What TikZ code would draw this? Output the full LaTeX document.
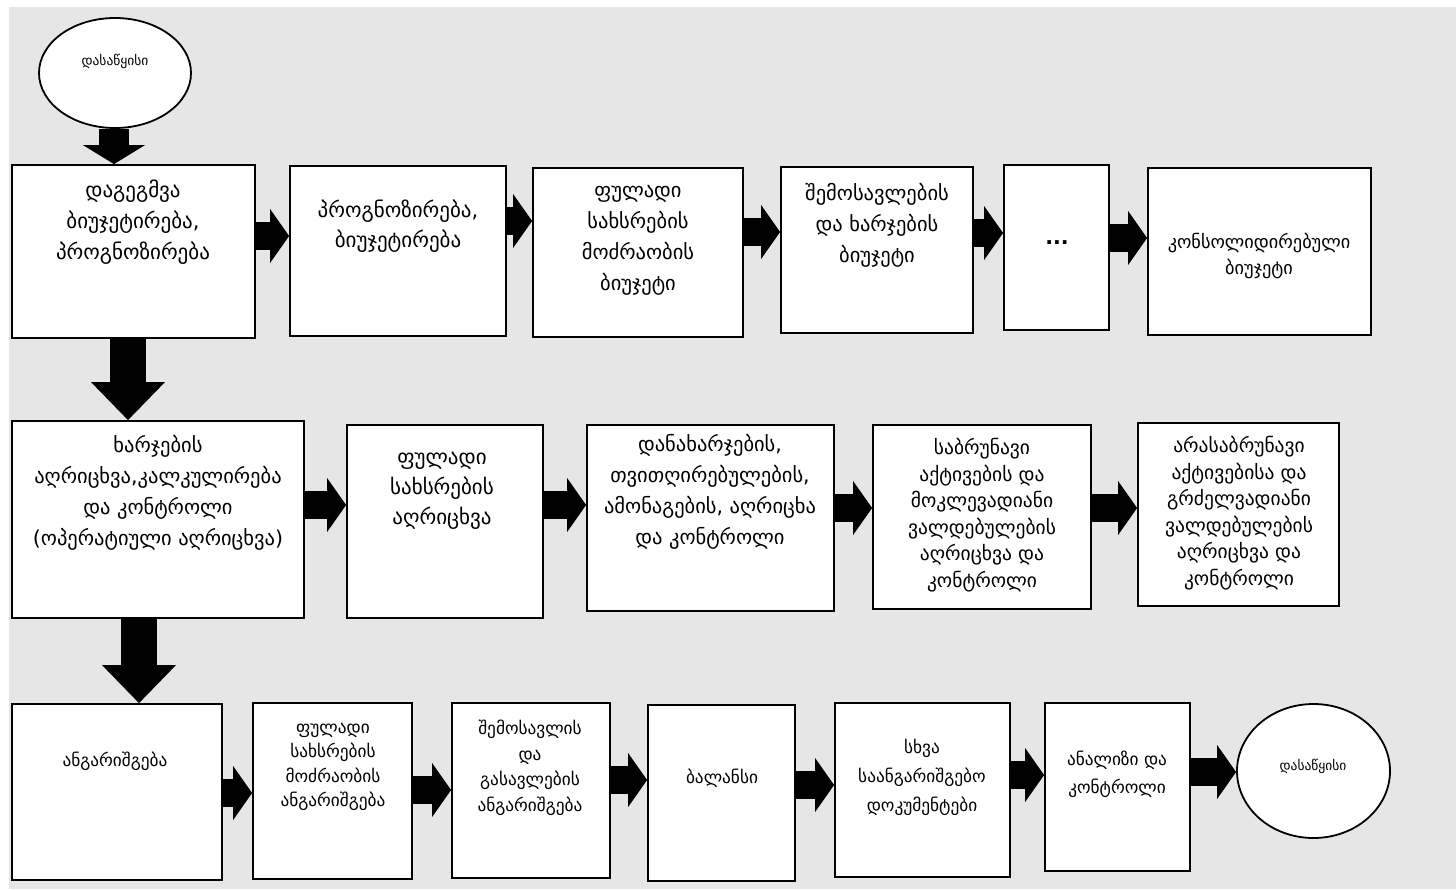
\documentclass[tikz,border=0pt]{standalone}
\usepackage{fontspec}
\newfontfamily\geo{DejaVu Sans}
\usetikzlibrary{arrows.meta,shapes.geometric}
\definecolor{panel}{RGB}{230,230,230}
\begin{document}
\begin{tikzpicture}[x=1pt,y=-1pt,
  box/.style={draw=black, line width=1.8pt, fill=white, inner sep=0pt, shape=rectangle},
  oval/.style={draw=black, line width=1.8pt, fill=white, inner sep=0pt, shape=ellipse},
  txtA/.style={align=center, inner sep=0pt, font=\geo\fontsize{20.5}{31}\selectfont},
  txtB/.style={align=center, inner sep=0pt, font=\geo\fontsize{19.5}{26.5}\selectfont},
  txtC/.style={align=center, inner sep=0pt, font=\geo\fontsize{17.3}{24.5}\selectfont},
  txtS/.style={align=center, inner sep=0pt, font=\geo\fontsize{13.5}{15}\selectfont},
  harrow/.style={line width=28pt, -{Triangle[length=19pt,width=54pt,line width=0pt]}},
  varrowS/.style={line width=30pt, -{Triangle[length=19pt,width=62pt,line width=0pt]}},
  varrowL/.style={line width=36pt, -{Triangle[length=38pt,width=74pt,line width=0pt]}}]

\useasboundingbox (0,0) rectangle (1456,889);
\fill[panel] (9,7) rectangle (1456,889);

% start
\node[oval, minimum width=152pt, minimum height=110pt] (start) at (115,73) {};
\node[txtS] (tstart) at (115,61) {დასაწყისი};

% planning row
\node[box, minimum width=243pt, minimum height=173pt] (b11) at (133.5,251.5) {};
\node[box, minimum width=216pt, minimum height=170pt] (b12) at (398,251) {};
\node[box, minimum width=210pt, minimum height=169pt] (b13) at (638,252.5) {};
\node[box, minimum width=192pt, minimum height=166pt] (b14) at (877,250) {};
\node[box, minimum width=105pt, minimum height=165pt] (b15) at (1056.5,247.5) {};
\node[box, minimum width=223pt, minimum height=167pt] (b16) at (1259.5,251.5) {};

\node[txtA, font=\geo\fontsize{21}{31}\selectfont] (t11) at (133,222) {დაგეგმვა\\ბიუჯეტირება,\\პროგნოზირება};
\node[txtA, font=\geo\fontsize{21}{30}\selectfont] (t12) at (398,226) {პროგნოზირება,\\ბიუჯეტირება};
\node[txtA] (t13) at (638,240) {ფულადი\\სახსრების\\მოძრაობის\\ბიუჯეტი};
\node[txtA] (t14) at (877,225) {შემოსავლების\\და ხარჯების\\ბიუჯეტი};
\node[txtA] (t15) at (1057,243) {\bfseries ...};
\node[txtB, font=\geo\fontsize{18.3}{26}\selectfont] (t16) at (1259,256) {კონსოლიდირებული\\ბიუჯეტი};

% accounting row
\node[box, minimum width=292pt, minimum height=197pt] (b21) at (158,519.5) {};
\node[box, minimum width=196pt, minimum height=193pt] (b22) at (445,521.5) {};
\node[box, minimum width=247pt, minimum height=186pt] (b23) at (710.5,518) {};
\node[box, minimum width=218pt, minimum height=184pt] (b24) at (982,517) {};
\node[box, minimum width=201pt, minimum height=183pt] (b25) at (1238.5,514.5) {};

\node[txtA] (t21) at (158,493) {ხარჯების\\აღრიცხვა,კალკულირება\\და კონტროლი\\(ოპერატიული აღრიცხვა)};
\node[txtA, font=\geo\fontsize{21}{30}\selectfont] (t22) at (442,491) {ფულადი\\სახსრების\\აღრიცხვა};
\node[txtA] (t23) at (710,492) {დანახარჯების,\\თვითღირებულების,\\ამონაგების, აღრიცხა\\და კონტროლი};
\node[txtB] (t24) at (982,515) {საბრუნავი\\აქტივების და\\მოკლევადიანი\\ვალდებულების\\აღრიცხვა და\\კონტროლი};
\node[txtB] (t25) at (1239,513) {არასაბრუნავი\\აქტივებისა და\\გრძელვადიანი\\ვალდებულების\\აღრიცხვა და\\კონტროლი};

% reporting row
\node[box, minimum width=210pt, minimum height=176pt] (b31) at (117,792) {};
\node[box, minimum width=159pt, minimum height=176pt] (b32) at (332.5,791) {};
\node[box, minimum width=158pt, minimum height=175pt] (b33) at (531,790.5) {};
\node[box, minimum width=147pt, minimum height=176pt] (b34) at (721.5,793) {};
\node[box, minimum width=175pt, minimum height=174pt] (b35) at (922.5,790) {};
\node[box, minimum width=145pt, minimum height=168pt] (b36) at (1117.5,787) {};
\node[oval, minimum width=153pt, minimum height=134pt] (finish) at (1313.5,771) {};

\node[txtC] (t31) at (115,761) {ანგარიშგება};
\node[txtC] (t32) at (333,767) {ფულადი\\სახსრების\\მოძრაობის\\ანგარიშგება};
\node[txtC, font=\geo\fontsize{17.3}{25.5}\selectfont] (t33) at (530,768) {შემოსავლის\\და\\გასავლების\\ანგარიშგება};
\node[txtC] (t34) at (722,778) {ბალანსი};
\node[txtC, font=\geo\fontsize{17.3}{29}\selectfont] (t35) at (922,777) {სხვა\\საანგარიშგებო\\დოკუმენტები};
\node[txtC, font=\geo\fontsize{17.3}{28}\selectfont] (t36) at (1117,774) {ანალიზი და\\კონტროლი};
\node[txtS] (tfinish) at (1313,766) {დასაწყისი};

% vertical flow
\draw[varrowS] (114,0 |- start.south) -- (114,0 |- b11.north);
\draw[varrowL] (128,0 |- b11.south) -- (128,0 |- b21.north);
\draw[varrowL] (139,0 |- b21.south) -- (139,0 |- b31.north);

% planning row arrows
\draw[harrow] (b11.east |- 0,236) -- (b12.west |- 0,236);
\draw[harrow] (b12.east |- 0,221) -- (b13.west |- 0,221);
\draw[harrow] (b13.east |- 0,232) -- (b14.west |- 0,232);
\draw[harrow] (b14.east |- 0,233) -- (b15.west |- 0,233);
\draw[harrow] (b15.east |- 0,238) -- (b16.west |- 0,238);

% accounting row arrows
\draw[harrow] (b21.east |- 0,505) -- (b22.west |- 0,505);
\draw[harrow] (b22.east |- 0,505) -- (b23.west |- 0,505);
\draw[harrow] (b23.east |- 0,508) -- (b24.west |- 0,508);
\draw[harrow] (b24.east |- 0,508) -- (b25.west |- 0,508);

% reporting row arrows
\draw[harrow] (b31.east |- 0,793) -- (b32.west |- 0,793);
\draw[harrow] (b32.east |- 0,790) -- (b33.west |- 0,790);
\draw[harrow] (b33.east |- 0,780) -- (b34.west |- 0,780);
\draw[harrow] (b34.east |- 0,785) -- (b35.west |- 0,785);
\draw[harrow] (b35.east |- 0,775) -- (b36.west |- 0,775);
\draw[harrow] (b36.east |- 0,772) -- (finish.west |- 0,772);
\end{tikzpicture}
\end{document}
